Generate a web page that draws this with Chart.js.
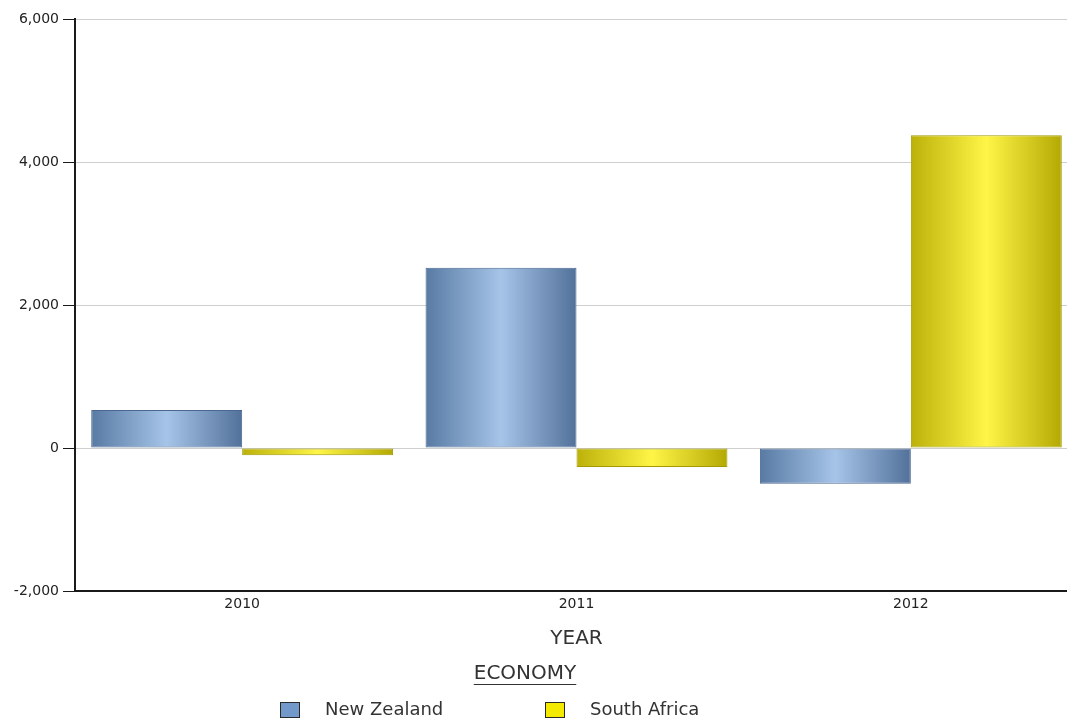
<!DOCTYPE html>
<html>
<head>
<meta charset="utf-8">
<script src="https://cdn.jsdelivr.net/npm/chart.js@4/dist/chart.umd.min.js"></script>
<style>
  html, body { margin: 0; padding: 0; background: #fff; overflow: hidden; }
  /* the plot runs a little past the right edge, as in the original */
  #wrap { width: 1067px; height: 719px; overflow: hidden; }
</style>
</head>
<body>
<div id="wrap"><canvas id="chart" width="1078" height="719"></canvas></div>
<script>
// Chart data
const years = ['2010', '2011', '2012'];
const newZealand = [530, 2520, -500];
const southAfrica = [-100, -265, 4375];
const yTicks = [-2000, 0, 2000, 4000, 6000];
const legendTitle = 'ECONOMY';
const axisTitle = 'YEAR';

const FONT = "'DejaVu Sans', Verdana, sans-serif";
const CAT_PCT = 0.903;

// gradient colours for the "cylinder" look of each series
const blueStops = ['#587aa3', '#a6c4e8', '#52719a'];
const yellowStops = ['#bbb109', '#fff547', '#b3a903'];

//====================================
// Builds a horizontal gradient across one bar, using the scales for position
function barGradient(ctx, stops, fallback){
    const chart = ctx.chart;
    const x = chart.scales.x;
    if (!x || ctx.dataIndex === undefined) return fallback;
    const center = x.getPixelForValue(ctx.dataIndex);
    const catW = (x.width / years.length) * CAT_PCT;
    const barW = catW / 2;
    const left = center - catW / 2 + ctx.datasetIndex * barW;
    // scales may not be laid out yet on the very first pass
    if (!isFinite(left) || !isFinite(barW) || barW <= 0) return fallback;
    const g = chart.ctx.createLinearGradient(left, 0, left + barW, 0);
    g.addColorStop(0, stops[0]);
    g.addColorStop(0.5, stops[1]);
    g.addColorStop(1, stops[2]);
    return g;
}

//====================================
// Legend drawn by hand: underlined title plus two boxes
const legendPlugin = {
    id: 'economyLegend',
    afterDraw(chart){
        const c = chart.ctx;
        c.save();
        c.fillStyle = '#333';
        c.textBaseline = 'middle';
        c.textAlign = 'center';
        c.font = '20px ' + FONT;
        const tx = 525;
        c.fillText(legendTitle, tx, 674);
        const tw = c.measureText(legendTitle).width;
        c.strokeStyle = '#333';
        c.lineWidth = 1;
        c.beginPath();
        c.moveTo(tx - tw / 2, 684.5);
        c.lineTo(tx + tw / 2, 684.5);
        c.stroke();

        c.textAlign = 'left';
        c.font = '18px ' + FONT;
        const starts = [280, 545];
        const fills = ['#7399cb', '#f4ea00'];
        chart.data.datasets.forEach(function(ds, i){
            const bx = starts[i];
            c.fillStyle = fills[i];
            c.fillRect(bx, 702, 20, 16);
            c.strokeStyle = '#2a2a2a';
            c.strokeRect(bx + 0.5, 702.5, 19, 15);
            c.fillStyle = '#333';
            c.fillText(ds.label, bx + 45, 710);
        });
        c.restore();
    }
};

const data = {
    labels: years,
    datasets: [
        {
            label: 'New Zealand',
            data: newZealand,
            backgroundColor: function(ctx){ return barGradient(ctx, blueStops, '#7399cb'); },
            borderColor: '#4a6790',
            borderWidth: 1,
            borderSkipped: false
        },
        {
            label: 'South Africa',
            data: southAfrica,
            backgroundColor: function(ctx){ return barGradient(ctx, yellowStops, '#f4ea00'); },
            borderColor: '#a39a00',
            borderWidth: 1,
            borderSkipped: false
        }
    ]
};

const options = {
    responsive: false,
    animation: false,
    layout: { padding: { top: 19, right: 0, bottom: 60, left: 0 } },
    plugins: {
        legend: { display: false },
        tooltip: { enabled: false }
    },
    datasets: { bar: { categoryPercentage: CAT_PCT, barPercentage: 1.0 } },
    scales: {
        x: {
            grid: { display: false, drawTicks: false },
            border: { display: true, color: '#1a1a1a', width: 2 },
            ticks: { color: '#222', font: { family: FONT, size: 14 }, padding: 5 },
            title: {
                display: true, text: axisTitle, color: '#333',
                font: { family: FONT, size: 20 }, padding: { top: 0, bottom: 8 }
            },
            afterFit: function(scale){ scale.height = 68; }
        },
        y: {
            min: -2000,
            max: 6000,
            afterBuildTicks: function(scale){
                scale.ticks = yTicks.map(function(v){ return { value: v }; });
            },
            grid: { color: '#cfcfcf', lineWidth: 1, tickLength: 12, tickColor: '#1a1a1a' },
            border: { display: true, color: '#1a1a1a', width: 2 },
            ticks: {
                color: '#222', font: { family: FONT, size: 14 }, padding: 4,
                callback: function(v){ return Number(v).toLocaleString('en-US'); }
            },
            afterFit: function(scale){ scale.width = 75; }
        }
    }
};

new Chart(document.getElementById('chart'), {
    type: 'bar',
    data: data,
    options: options,
    plugins: [legendPlugin]
});
</script>
</body>
</html>
